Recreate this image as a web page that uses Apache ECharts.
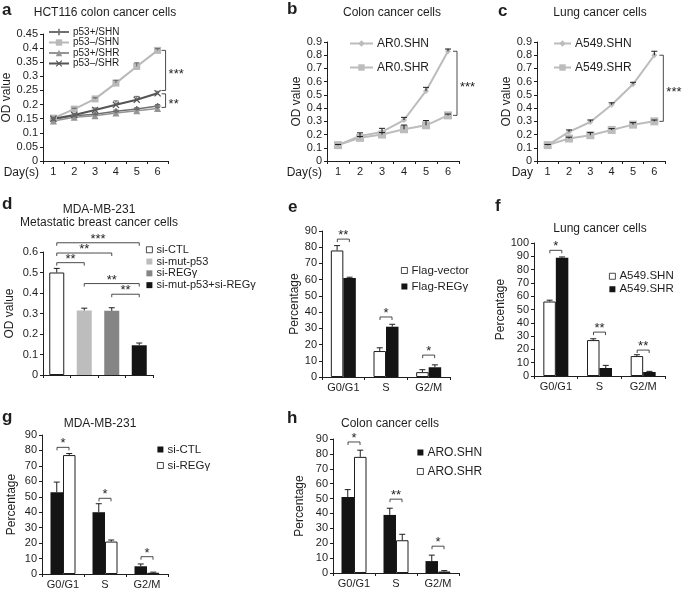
<!DOCTYPE html>
<html>
<head>
<meta charset="utf-8">
<script src="https://cdn.jsdelivr.net/npm/echarts@6/dist/echarts.min.js"></script>
<style>
    html, body {margin: 0; padding: 0; background: #fff;}
    #chart {width: 685px; height: 594px;}
</style>
</head>
<body>
<div id="chart"></div>
<script>
// ---- data ----
const days = ['1', '2', '3', '4', '5', '6'];
const phases = ['G0/G1', 'S', 'G2/M'];

// a  HCT116
const aNames = ['p53+/SHN', 'p53–/SHN', 'p53+/SHR', 'p53–/SHR'];
const aP53pSHN = [0.148, 0.16, 0.166, 0.176, 0.184, 0.195];
const aP53pSHNErr = [0.151, 0.164, 0.17, 0.181, 0.189, 0.2];
const aP53mSHN = [0.152, 0.184, 0.22, 0.276, 0.335, 0.392];
const aP53mSHNErr = [0.155, 0.187, 0.224, 0.286, 0.348, 0.398];
const aP53pSHR = [0.142, 0.155, 0.16, 0.17, 0.178, 0.186];
const aP53pSHRErr = [0.145, 0.158, 0.164, 0.174, 0.183, 0.19];
const aP53mSHR = [0.15, 0.163, 0.181, 0.199, 0.217, 0.24];
const aP53mSHRErr = [0.153, 0.168, 0.188, 0.213, 0.229, 0.247];
const aSigTop = [0.392, 0.238];
const aSigBottom = [0.25, 0.19];
const aSigLabels = ['***', '**'];

// b  colon
const bNames = ['AR0.SHN', 'AR0.SHR'];
const bSHN = [0.12, 0.19, 0.22, 0.31, 0.53, 0.83];
const bSHNErr = [0.125, 0.213, 0.247, 0.33, 0.557, 0.847];
const bSHR = [0.12, 0.175, 0.2, 0.24, 0.27, 0.345];
const bSHRErr = [0.125, 0.185, 0.215, 0.272, 0.306, 0.355];
const bSigTop = [0.83];
const bSigBottom = [0.345];
const bSigLabels = ['***'];

// c  lung
const cNames = ['A549.SHN', 'A549.SHR'];
const cSHN = [0.12, 0.22, 0.295, 0.425, 0.58, 0.8];
const cSHNErr = [0.125, 0.235, 0.31, 0.44, 0.595, 0.83];
const cSHR = [0.12, 0.17, 0.195, 0.235, 0.275, 0.3];
const cSHRErr = [0.125, 0.18, 0.215, 0.245, 0.29, 0.31];
const cSigTop = [0.8];
const cSigBottom = [0.3];
const cSigLabels = ['***'];

// d  MDA-MB-231
const dGroups = ['si-CTL', 'si-mut-p53', 'si-REGγ', 'si-mut-p53+si-REGγ'];
const dValues = [0.5, 0.315, 0.313, 0.145];
const dErr = [0.52, 0.326, 0.328, 0.156];
const dSigFrom = [0, 0, 0, 1, 2];
const dSigTo = [3, 2, 1, 3, 3];
const dSigY = [0.645, 0.595, 0.548, 0.446, 0.394];
const dSigLabels = ['***', '**', '**', '**', '**'];

// e  Flag
const eNames = ['Flag-vector', 'Flag-REGγ'];
const eVector = [78, 16, 3];
const eVectorErr = [81, 18, 4.5];
const eREG = [61, 31, 6];
const eREGErr = [61.5, 32.5, 7.5];
const eSigY = [85, 37, 13.5];
const eSigLabels = ['**', '*', '*'];

// f  lung
const fNames = ['A549.SHN', 'A549.SHR'];
const fSHN = [56, 27, 15];
const fSHNErr = [57, 28, 16];
const fSHR = [89, 6, 3];
const fSHRErr = [89.5, 8, 3.5];
const fSigY = [94.5, 33, 19.5];
const fSigLabels = ['*', '**', '**'];

// g  MDA-MB-231
const gNames = ['si-CTL', 'si-REGγ'];
const gCTL = [53, 40, 5];
const gCTLErr = [59.5, 45.5, 6.5];
const gREG = [77, 21, 0.8];
const gREGErr = [78, 22, 1.2];
const gSigY = [82, 49, 11.2];
const gSigLabels = ['*', '*', '*'];

// h  colon
const hNames = ['ARO.SHN', 'ARO.SHR'];
const hSHN = [51, 39, 8];
const hSHNErr = [56, 43.5, 12];
const hSHR = [78, 22, 1];
const hSHRErr = [82.5, 26, 1.6];
const hSigY = [88, 49.6, 18];
const hSigLabels = ['*', '**', '*'];

// ---- helpers ----
const FONT = '"Liberation Sans", Arial, Helvetica, sans-serif';
const INK = '#1e1e1e';
const PLUS = 'path://M3,0H5V3H8V5H5V8H3V5H0V3H3Z';
const CROSS = 'path://M0,1L1,0L4,3L7,0L8,1L5,4L8,7L7,8L4,5L1,8L0,7L3,4Z';

const catAxis = (gridIndex, data, showLabel) => ({
    type: 'category', gridIndex, data,
    axisLine: {lineStyle: {color: INK, width: 1}},
    axisTick: {show: true, length: 3, lineStyle: {color: INK}},
    axisLabel: {show: showLabel, color: INK, fontSize: 11, fontFamily: FONT, margin: 5, interval: 0},
    splitLine: {show: false}
});

const valAxis = (gridIndex, max, interval, name, nameGap) => ({
    type: 'value', gridIndex, min: 0, max, interval,
    name, nameLocation: 'middle', nameGap,
    nameTextStyle: {color: INK, fontSize: 12, fontFamily: FONT},
    axisLine: {show: true, lineStyle: {color: INK}},
    axisTick: {show: true, length: 3, lineStyle: {color: INK}},
    axisLabel: {color: INK, fontSize: 11, fontFamily: FONT, margin: 5},
    splitLine: {show: false}
});

const lineSeries = (gi, name, data, color, symbol, size, width) => ({
    type: 'line', name, xAxisIndex: gi, yAxisIndex: gi, data,
    symbol, symbolSize: size,
    lineStyle: {color, width},
    itemStyle: {color},
    z: 3
});

const barSeries = (gi, name, data, white) => ({
    type: 'bar', name, xAxisIndex: gi, yAxisIndex: gi, data,
    barWidth: 12.5, barGap: '0%',
    itemStyle: white ? {color: '#fff', borderColor: INK, borderWidth: 1} : {color: '#141414'}
});

// vertical error bar with a cap, offset in px from the category centre
const errorSeries = (gi, values, tops, offset, cap, color) => ({
    type: 'custom', xAxisIndex: gi, yAxisIndex: gi, silent: true, z: 4,
    data: values.map((v, i) => [i, v, tops[i]]),
    renderItem: (params, api) => {
        const base = api.coord([api.value(0), api.value(1)]);
        const top = api.coord([api.value(0), api.value(2)]);
        const x = base[0] + offset;
        return {
            type: 'group', children: [
                {type: 'line', shape: {x1: x, y1: base[1], x2: x, y2: top[1]}, style: {stroke: color, lineWidth: 1}},
                {type: 'line', shape: {x1: x - cap, y1: top[1], x2: x + cap, y2: top[1]}, style: {stroke: color, lineWidth: 1}}
            ]
        };
    }
});

// significance bracket standing right of the last day
const sideBracket = (gi, tops, bottoms, labels, dx) => ({
    type: 'custom', xAxisIndex: gi, yAxisIndex: gi, silent: true, z: 5,
    data: tops.map((t, i) => [5, t, bottoms[i], i]),
    renderItem: (params, api) => {
        const p1 = api.coord([api.value(0), api.value(1)]);
        const p2 = api.coord([api.value(0), api.value(2)]);
        const x = p1[0] + dx;
        return {
            type: 'group', children: [
                {type: 'polyline', shape: {points: [[x - 4, p1[1]], [x, p1[1]], [x, p2[1]], [x - 4, p2[1]]]},
                    style: {stroke: INK, fill: null, lineWidth: 0.8}},
                {type: 'text', style: {text: labels[api.value(3)], x: x + 3, y: (p1[1] + p2[1]) / 2 + 4,
                    align: 'left', verticalAlign: 'middle', fill: INK, fontSize: 13, fontFamily: FONT}}
            ]
        };
    }
});

// bracket over the two bars of one category
const pairBracket = (gi, ys, labels, half) => ({
    type: 'custom', xAxisIndex: gi, yAxisIndex: gi, silent: true, z: 5,
    data: ys.map((y, i) => [i, y]),
    renderItem: (params, api) => {
        const p = api.coord([api.value(0), api.value(1)]);
        const x1 = p[0] - half, x2 = p[0] + half, y = p[1];
        return {
            type: 'group', children: [
                {type: 'polyline', shape: {points: [[x1, y + 3], [x1, y], [x2, y], [x2, y + 3]]},
                    style: {stroke: INK, fill: null, lineWidth: 0.8}},
                {type: 'text', style: {text: labels[params.dataIndex], x: (x1 + x2) / 2, y: y + 3,
                    align: 'center', verticalAlign: 'bottom', fill: INK, fontSize: 13, fontFamily: FONT}}
            ]
        };
    }
});

// bracket between two groups in panel d
const spanBracket = (gi, from, to, ys, labels) => ({
    type: 'custom', xAxisIndex: gi, yAxisIndex: gi, silent: true, z: 5,
    data: ys.map((y, i) => [from[i], y, to[i]]),
    renderItem: (params, api) => {
        const p1 = api.coord([api.value(0), api.value(1)]);
        const p2 = api.coord([api.value(2), api.value(1)]);
        const y = p1[1];
        return {
            type: 'group', children: [
                {type: 'polyline', shape: {points: [[p1[0], y + 3], [p1[0], y], [p2[0], y], [p2[0], y + 3]]},
                    style: {stroke: INK, fill: null, lineWidth: 0.8}},
                {type: 'text', style: {text: labels[params.dataIndex], x: (p1[0] + p2[0]) / 2, y: y + 3,
                    align: 'center', verticalAlign: 'bottom', fill: INK, fontSize: 13, fontFamily: FONT}}
            ]
        };
    }
});

const legendBox = (prefix, names, left, top, fontSize, lineHeight, itemGap, itemWidth, itemHeight, icon) => {
    const lg = {
        orient: 'vertical', left, top, padding: 0, itemGap, itemWidth, itemHeight,
        selectedMode: false,
        data: names.map(n => prefix + '|' + n),
        formatter: n => n.split('|')[1],
        textStyle: {color: INK, fontSize, lineHeight, fontFamily: FONT, padding: [0, 0, 0, -1]}
    };
    if (icon) {
        lg.icon = icon;
        lg.itemStyle = {borderWidth: 0.8};
    }
    return lg;
};

const txt = (text, x, y, size, align, bold) => ({
    type: 'text', x, y, silent: true,
    style: {text, align: align || 'center', verticalAlign: 'middle', fill: INK,
        fontSize: size, fontWeight: bold ? 'bold' : 'normal', fontFamily: FONT}
});

// ---- chart ----
const chart = echarts.init(document.getElementById('chart'), null, {renderer: 'canvas'});

const dSeries = dGroups.map((g, k) => ({
    type: 'bar', name: 'd|' + g, xAxisIndex: 3, yAxisIndex: 3,
    data: dValues.map((v, i) => i === k ? v : '-'),
    barWidth: 15, barGap: '-100%',
    itemStyle: [
        {color: '#fff', borderColor: INK, borderWidth: 1},
        {color: '#bdbdbd'},
        {color: '#858585'},
        {color: '#141414'}
    ][k]
}));

const option = {
    animation: false,
    backgroundColor: '#fff',
    textStyle: {fontFamily: FONT},
    grid: [
        {left: 43, top: 34, width: 125, height: 127, outerBoundsMode: 'none'},
        {left: 327, top: 42, width: 132, height: 119, outerBoundsMode: 'none'},
        {left: 537, top: 42, width: 128, height: 119, outerBoundsMode: 'none'},
        {left: 43, top: 252, width: 110, height: 123, outerBoundsMode: 'none'},
        {left: 322, top: 231, width: 128, height: 146, outerBoundsMode: 'none'},
        {left: 534, top: 243, width: 131, height: 133, outerBoundsMode: 'none'},
        {left: 42, top: 435, width: 126, height: 139, outerBoundsMode: 'none'},
        {left: 333, top: 439, width: 126, height: 134, outerBoundsMode: 'none'}
    ],
    xAxis: [
        catAxis(0, days, true),
        catAxis(1, days, true),
        catAxis(2, days, true),
        catAxis(3, dGroups, false),
        catAxis(4, phases, true),
        catAxis(5, phases, true),
        catAxis(6, phases, true),
        catAxis(7, phases, true)
    ],
    yAxis: [
        valAxis(0, 0.45, 0.05, 'OD value', 30),
        valAxis(1, 0.9, 0.1, 'OD value', 23),
        valAxis(2, 0.9, 0.1, 'OD value', 20),
        valAxis(3, 0.6, 0.1, 'OD value', 27),
        valAxis(4, 90, 10, 'Percentage', 18),
        valAxis(5, 100, 10, 'Percentage', 19),
        valAxis(6, 90, 10, 'Percentage', 24),
        valAxis(7, 90, 10, 'Percentage', 27)
    ],
    legend: [
        legendBox('a', aNames, 48, 27, 10, 9, 0.5, 20, 8),
        legendBox('b', bNames, 349, 37, 12, 13, 11, 23, 8),
        legendBox('c', cNames, 553, 37, 12, 13, 11, 17, 8),
        legendBox('d', dGroups, 146, 244, 11, 11.5, 0.3, 6, 6, 'rect'),
        legendBox('e', eNames, 401, 264, 11.5, 13, 3, 6, 6, 'rect'),
        legendBox('f', fNames, 609, 270, 11.5, 12.5, 0.5, 6, 6, 'rect'),
        legendBox('g', gNames, 157, 443, 11.5, 13, 3, 6, 6, 'rect'),
        legendBox('h', hNames, 417, 446, 12, 13, 6, 6, 6, 'rect')
    ],
    graphic: [
        txt('a', 2, 10, 17, 'left', true),
        txt('b', 287, 9, 17, 'left', true),
        txt('c', 498, 11, 17, 'left', true),
        txt('d', 2, 204, 17, 'left', true),
        txt('e', 288, 207, 17, 'left', true),
        txt('f', 495, 206, 17, 'left', true),
        txt('g', 2, 417, 17, 'left', true),
        txt('h', 287, 418, 17, 'left', true),
        txt('HCT116 colon cancer cells', 105, 13, 12),
        txt('Colon cancer cells', 392, 13, 12),
        txt('Lung cancer cells', 600, 13, 12),
        txt('MDA-MB-231', 99, 210, 12),
        txt('Metastatic breast cancer cells', 99, 223, 12),
        txt('Lung cancer cells', 600, 229, 12),
        txt('MDA-MB-231', 100, 424, 12),
        txt('Colon cancer cells', 390, 424, 12),
        txt('Day(s)', 39, 173, 12, 'right'),
        txt('Day(s)', 322, 173, 12, 'right'),
        txt('Day', 533, 173, 12, 'right')
    ],
    series: [
        // a
        lineSeries(0, 'a|' + aNames[0], aP53pSHN, '#707070', PLUS, 6, 1.5),
        lineSeries(0, 'a|' + aNames[1], aP53mSHN, '#b9b9b9', 'rect', 7, 2),
        lineSeries(0, 'a|' + aNames[2], aP53pSHR, '#959595', 'triangle', 7, 1.5),
        lineSeries(0, 'a|' + aNames[3], aP53mSHR, '#555555', CROSS, 7, 2),
        errorSeries(0, aP53pSHN, aP53pSHNErr, 0, 2.5, '#666'),
        errorSeries(0, aP53mSHN, aP53mSHNErr, 0, 2.5, '#666'),
        errorSeries(0, aP53pSHR, aP53pSHRErr, 0, 2.5, '#666'),
        errorSeries(0, aP53mSHR, aP53mSHRErr, 0, 2.5, '#666'),
        sideBracket(0, aSigTop, aSigBottom, aSigLabels, 8),
        // b
        lineSeries(1, 'b|' + bNames[0], bSHN, '#bcbcbc', 'diamond', 6, 2),
        lineSeries(1, 'b|' + bNames[1], bSHR, '#bcbcbc', 'rect', 8, 2),
        errorSeries(1, bSHN, bSHNErr, 0, 3, INK),
        errorSeries(1, bSHR, bSHRErr, 0, 3, INK),
        sideBracket(1, bSigTop, bSigBottom, bSigLabels, 9),
        // c
        lineSeries(2, 'c|' + cNames[0], cSHN, '#bcbcbc', 'diamond', 6, 2),
        lineSeries(2, 'c|' + cNames[1], cSHR, '#bcbcbc', 'rect', 8, 2),
        errorSeries(2, cSHN, cSHNErr, 0, 3, INK),
        errorSeries(2, cSHR, cSHRErr, 0, 3, INK),
        sideBracket(2, cSigTop, cSigBottom, cSigLabels, 9),
        // d
        ...dSeries,
        errorSeries(3, dValues, dErr, 0, 3, INK),
        spanBracket(3, dSigFrom, dSigTo, dSigY, dSigLabels),
        // e
        barSeries(4, 'e|' + eNames[0], eVector, true),
        barSeries(4, 'e|' + eNames[1], eREG, false),
        errorSeries(4, eVector, eVectorErr, -6.25, 3, INK),
        errorSeries(4, eREG, eREGErr, 6.25, 3, INK),
        pairBracket(4, eSigY, eSigLabels, 6),
        // f
        barSeries(5, 'f|' + fNames[0], fSHN, true),
        barSeries(5, 'f|' + fNames[1], fSHR, false),
        errorSeries(5, fSHN, fSHNErr, -6.25, 3, INK),
        errorSeries(5, fSHR, fSHRErr, 6.25, 3, INK),
        pairBracket(5, fSigY, fSigLabels, 6),
        // g
        barSeries(6, 'g|' + gNames[0], gCTL, false),
        barSeries(6, 'g|' + gNames[1], gREG, true),
        errorSeries(6, gCTL, gCTLErr, -6.25, 3, INK),
        errorSeries(6, gREG, gREGErr, 6.25, 3, INK),
        pairBracket(6, gSigY, gSigLabels, 6),
        // h
        barSeries(7, 'h|' + hNames[0], hSHN, false),
        barSeries(7, 'h|' + hNames[1], hSHR, true),
        errorSeries(7, hSHN, hSHNErr, -6.25, 3, INK),
        errorSeries(7, hSHR, hSHRErr, 6.25, 3, INK),
        pairBracket(7, hSigY, hSigLabels, 6)
    ]
};

chart.setOption(option);
</script>
</body>
</html>
